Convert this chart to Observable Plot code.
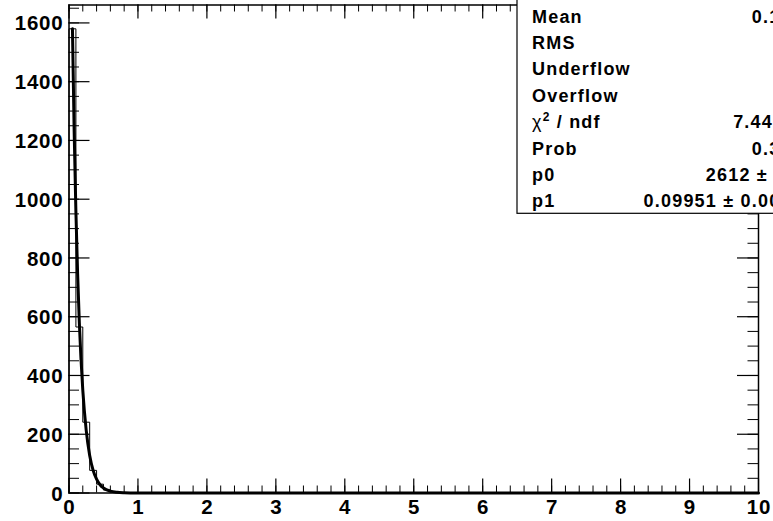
<!DOCTYPE html>
<html><head><meta charset="utf-8">
<script src="https://cdn.jsdelivr.net/npm/d3@7"></script>
<script src="https://cdn.jsdelivr.net/npm/@observablehq/plot@0.6"></script>
<style>
html,body{margin:0;padding:0;background:#fff;overflow:hidden;width:773px;height:521px}
#chart svg{overflow:hidden}
</style></head><body><div id="chart"></div>
<script>
// Histogram (bin left edges, counts), bins of width 0.1 on [0,10]
const binLeft  = [0, 0,    0.1, 0.2, 0.3, 0.4, 0.5, 0.6, 0.7, 0.8, 10];
const binCount = [0, 1580, 565, 241, 77,  30,  10,  4,   1,   0,   0];
// Fit curve
const fitX = [0.05, 0.075, 0.1, 0.125, 0.15, 0.2, 0.25, 0.3, 0.35, 0.4, 0.45, 0.5, 0.6, 0.7, 0.8, 0.9, 1.0, 1.5, 10];
const fitY = [1580, 1230, 958, 746, 579, 350, 212, 128, 77, 47, 28, 17, 6.3, 2.3, 0.85, 0.3, 0.1, 0, 0];
// Axis ticks
const xTickLabels = [0,1,2,3,4,5,6,7,8,9,10];
const yTickLabels = [0,200,400,600,800,1000,1200,1400,1600];
const xMinorTicks = d3.range(0, 10.001, 0.2);
const yMinorTicks = d3.range(0, 1661, 50);
// Stats box
const statNames  = ["Mean","RMS","Underflow","Overflow","χ2 / ndf","Prob","p0","p1"];
const statValues = ["0.1025","0.1","0","0","7.446 / 8","0.3850","2612 ± 30.1","0.09951 ± 0.00131"];

const W = 773, H = 521, mL = 68.5, mR = 15, mT = 4.5, mB = 28.5;
const pw = W - mL - mR, ph = H - mT - mB;

const histData = binLeft.map((x, i) => ({x, y: binCount[i]}));
const fitData = fitX.map((x, i) => ({x, y: fitY[i]}));

const plot = Plot.plot({
  width: W, height: H,
  marginLeft: mL, marginRight: mR, marginTop: mT, marginBottom: mB,
  style: {fontFamily: "'Liberation Sans', Arial, sans-serif", fontWeight: "bold", letterSpacing: "0.8px", background: "#fff", color: "#000"},
  x: {domain: [0, 10]},
  y: {domain: [0, 1661]},
  marks: [
    Plot.line(histData, {x: "x", y: "y", curve: "step-after", stroke: "#000", strokeWidth: 1}),
    Plot.line(fitData, {x: "x", y: "y", curve: "monotone-x", stroke: "#000", strokeWidth: 3}),
    // inward ticks: left / right
    Plot.tickY(yMinorTicks, {y: d => d, insetRight: pw - 10.5, stroke: "#000", strokeWidth: 1}),
    Plot.tickY(yTickLabels, {y: d => d, insetRight: pw - 21, stroke: "#000", strokeWidth: 1.2}),
    Plot.tickY(yMinorTicks, {y: d => d, insetLeft: pw - 10.5, stroke: "#000", strokeWidth: 1}),
    Plot.tickY(yTickLabels, {y: d => d, insetLeft: pw - 21, stroke: "#000", strokeWidth: 1.2}),
    // inward ticks: bottom / top
    Plot.tickX(xMinorTicks, {x: d => d, insetTop: ph - 7, stroke: "#000", strokeWidth: 1}),
    Plot.tickX(xTickLabels, {x: d => d, insetTop: ph - 14, stroke: "#000", strokeWidth: 1.2}),
    Plot.tickX(xMinorTicks, {x: d => d, insetBottom: ph - 7, stroke: "#000", strokeWidth: 1}),
    Plot.tickX(xTickLabels, {x: d => d, insetBottom: ph - 14, stroke: "#000", strokeWidth: 1.2}),
    Plot.frame({stroke: "#000", strokeWidth: 1.5}),
    Plot.axisX(xTickLabels, {tickSize: 0, tickPadding: 6.5, fontSize: 20.5, fontWeight: "bold", label: null, dx: 0.4, tickFormat: d => `${d}`}),
    Plot.axisY(yTickLabels, {tickSize: 0, tickPadding: 5.5, fontSize: 20.5, fontWeight: "bold", label: null, dy: 1, tickFormat: d => `${d}`})
  ]
});
document.getElementById("chart").appendChild(plot);

// Stats box (ROOT TPaveStats style)
const svg = d3.select(plot);
const g = svg.append("g").attr("font-size", 18).attr("font-weight", "bold")
  .attr("font-family", "'Liberation Sans', Arial, sans-serif").attr("text-anchor", "start")
  .attr("letter-spacing", "1.2px");
g.append("rect").attr("x", 517).attr("y", -20).attr("width", 320).attr("height", 233.3)
  .attr("fill", "#fff").attr("stroke", "#000").attr("stroke-width", 1.2);
statNames.forEach((n, i) => {
  const yb = 16 + 26.4 * i + 6.5;
  const t = g.append("text").attr("x", 532).attr("y", yb).attr("text-anchor", "start");
  if (n.startsWith("χ2")) {
    t.append("tspan").attr("font-weight", "normal").text("χ");
    t.append("tspan").attr("dy", -7).attr("font-size", 12).text("2");
    t.append("tspan").attr("dy", 7).text(n.slice(2));
  } else {
    t.text(n);
  }
  g.append("text").attr("x", 814).attr("y", yb).attr("text-anchor", "end").text(statValues[i]);
});
</script></body></html>
